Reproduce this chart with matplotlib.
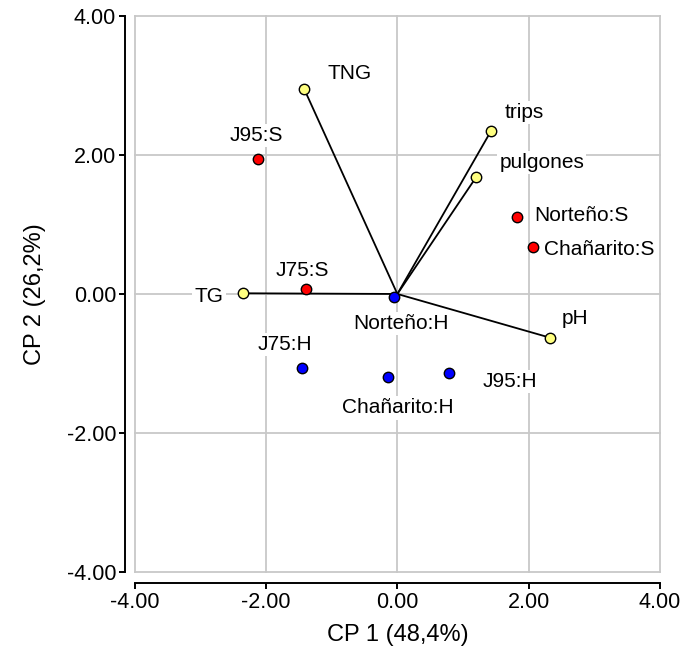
import matplotlib
matplotlib.use("Agg")
import matplotlib.pyplot as plt

plt.rcParams['font.family'] = ['Liberation Sans', 'DejaVu Sans']

# variables (yellow, joined to origin)
var_names = ['TNG', 'trips', 'pulgones', 'TG', 'pH']
var_x = [-1.42, 1.43, 1.20, -2.35, 2.33]
var_y = [2.95, 2.35, 1.68, 0.01, -0.63]
var_lx = [-0.73, 1.94, 2.20, -2.87, 2.71]
var_ly = [3.17, 2.61, 1.89, -0.04, -0.36]

# S observations (red)
s_names = ['J95:S', 'Norteño:S', 'Chañarito:S', 'J75:S']
s_x = [-2.12, 1.83, 2.06, -1.39]
s_y = [1.94, 1.11, 0.68, 0.07]
s_lx = [-2.15, 2.81, 3.08, -1.45]
s_ly = [2.28, 1.13, 0.64, 0.34]

# H observations (blue)
h_names = ['Norteño:H', 'J75:H', 'Chañarito:H', 'J95:H']
h_x = [-0.05, -1.45, -0.14, 0.78]
h_y = [-0.04, -1.06, -1.19, -1.14]
h_lx = [0.05, -1.71, 0.0, 1.71]
h_ly = [-0.43, -0.73, -1.64, -1.26]

fig = plt.figure(figsize=(6.81, 6.57), dpi=100)
ax = fig.add_axes([0.198, 0.1294, 0.771, 0.8463])

ax.set_xlim(-4, 4)
ax.set_ylim(-4, 4)
ticks = [-4, -2, 0, 2, 4]
ax.set_xticks(ticks)
ax.set_yticks(ticks)
ax.set_xticklabels(['%.2f' % t for t in ticks])
ax.set_yticklabels(['%.2f' % t for t in ticks])

for t in ticks:
    ax.axvline(t, color='#c8c8c8', lw=1.3, zorder=0, clip_on=False)
    ax.axhline(t, color='#c8c8c8', lw=1.3, zorder=0, clip_on=False)

for side in ['top', 'right']:
    ax.spines[side].set_visible(False)
ax.spines['left'].set_position(('outward', 7))
ax.spines['bottom'].set_position(('outward', 8))
ax.spines['left'].set_linewidth(1.4)
ax.spines['bottom'].set_linewidth(1.4)
ax.tick_params(direction='out', length=4.5, width=1.4, labelsize=15.5, pad=2)

for x, y in zip(var_x, var_y):
    ax.plot([0, x], [0, y], color='black', lw=1.3, zorder=2)

mk = dict(linestyle='none', marker='o', markersize=7.5, markeredgecolor='black',
          markeredgewidth=1, zorder=4)
ax.plot(var_x, var_y, markerfacecolor='#ffff80', **mk)
ax.plot(s_x, s_y, markerfacecolor='#ff0000', **mk)
ax.plot(h_x, h_y, markerfacecolor='#0000ff', **mk)

box = dict(facecolor='white', edgecolor='none', pad=1.5)
for names, lx, ly in [(var_names, var_lx, var_ly), (s_names, s_lx, s_ly), (h_names, h_lx, h_ly)]:
    for n, x, y in zip(names, lx, ly):
        ax.text(x, y, n, fontsize=15, ha='center', va='center', bbox=box, zorder=3)

ax.set_xlabel('CP 1 (48,4%)', fontsize=17, labelpad=8)
ax.set_ylabel('CP 2 (26,2%)', fontsize=17, labelpad=15)

fig.savefig('out.png', dpi=100)
